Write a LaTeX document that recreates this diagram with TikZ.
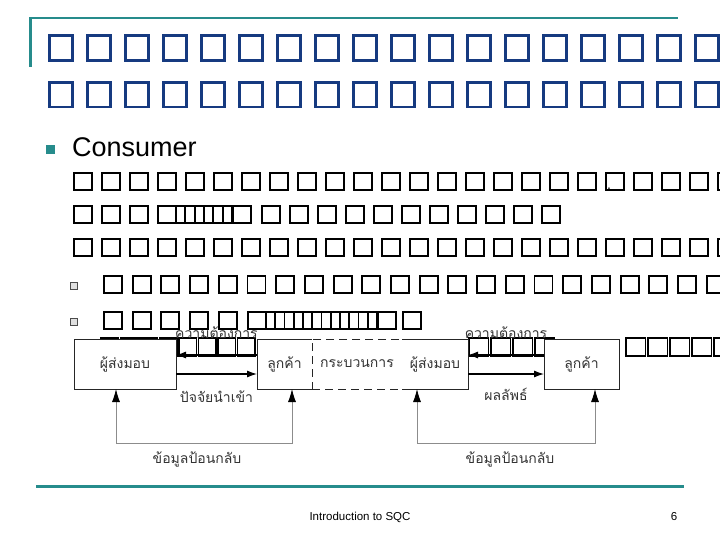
\documentclass[tikz,border=0pt]{standalone}
\usepackage{fontspec}
\setmainfont{Liberation Sans}
\newfontfamily\thaifont[Script=Thai]{Loma}
\usetikzlibrary{arrows.meta,positioning,calc}

\definecolor{slideteal}{RGB}{38,140,140}
\definecolor{titlenavy}{RGB}{22,58,128}

\begin{document}
\begin{tikzpicture}[
    x=1pt, y=-1pt,
    titletofu/.style={draw=titlenavy, line width=2.7pt},
    tofu/.style={draw=black, line width=1.9pt},
    bodytext/.style={
        font=\fontsize{27}{32}\selectfont,
        anchor=base west,
        inner sep=0pt
    },
    block/.style={
        rectangle,
        draw=black!85,
        line width=0.9pt,
        fill=white,
        outer sep=0pt,
        minimum height=50pt,
        font=\thaifont\fontsize{14}{16}\selectfont,
        text=black!80
    },
    lbl/.style={
        font=\thaifont\fontsize{14}{16}\selectfont,
        text=black!80,
        inner sep=0pt
    },
    arrow/.style={-{Latex[length=10pt,width=7pt]}, line width=1.1pt},
    feedback/.style={
        {Latex[length=13pt,width=8pt,color=black]}-{Latex[length=13pt,width=8pt,color=black]},
        draw=black!45,
        line width=0.8pt
    },
    footer/.style={font=\fontsize{11.5}{13}\selectfont, inner sep=0pt}
]

\path[use as bounding box, clip] (0,0) rectangle (720,540);

% =========================================================
% TITLE
% =========================================================

\draw[slideteal, line width=2.5pt] (30.5,67) -- (30.5,18) -- (678,18);

\foreach \k in {0,...,17} {
    \draw[titletofu] ({49.5+38*\k},35.5) rectangle ++(23,25);
    \draw[titletofu] ({49.5+38*\k},82.5) rectangle ++(23,24.5);
}

% =========================================================
% BODY
% =========================================================

\fill[slideteal] (46,145) rectangle (55,154);
\node[bodytext] (consumer) at (72,157) {Consumer};

% line 2
\foreach \k in {0,...,23}
    \draw[tofu] ({74+28*\k},173) rectangle ++(18,17);
\node[inner sep=0pt, anchor=base west, font=\fontsize{14}{16}\selectfont]
    (comma) at (607,190) {,};

% line 3
\foreach \k in {0,...,2}
    \draw[tofu] ({74+28*\k},206) rectangle ++(18,17);
\draw[tofu] (158,206) rectangle ++(18,17);
\foreach \j in {0,...,5}
    \draw[tofu] ({176+9.33*\j},206) rectangle ++(9.33,17);
\draw[tofu] (233,206) rectangle ++(18,17);
\foreach \k in {0,...,10}
    \draw[tofu] ({262+28*\k},206) rectangle ++(18,17);

% line 4
\foreach \k in {0,...,23}
    \draw[tofu] ({74+28*\k},239) rectangle ++(18,17);

% sub items
\draw[black!70, fill=black!12, line width=1pt] (70,282) rectangle (77,289);
\draw[black!70, fill=black!12, line width=1pt] (70,318) rectangle (77,325);

\foreach \k in {0,...,21}
    \draw[tofu] ({104+28.7*\k},276) rectangle ++(18,17);

\foreach \k in {0,...,4}
    \draw[tofu] ({104+28.7*\k},312) rectangle ++(18,17);
\draw[tofu] (248,312) rectangle ++(18,17);
\foreach \j in {0,...,11}
    \draw[tofu] ({266+9.25*\j},312) rectangle ++(9.25,17);
\draw[tofu] (378,312) rectangle ++(18,17);
\draw[tofu] (403,312) rectangle ++(18,17);

\foreach \k in {0,...,7}
    \draw[tofu] ({101+19.5*\k},338) rectangle ++(17.5,18);
\foreach \x in {468,490,512,534,625,647,669,691,713}
    \draw[tofu] ({\x+1},338) rectangle ++(19.5,18);

% =========================================================
% DIAGRAM
% =========================================================

\node[block, minimum width=102pt] (suppA) at (125,364) {ผู้ส่งมอบ};
\node[block, minimum width=55pt, right=81pt of suppA] (custA) {ลูกค้า};
\node[block, minimum width=90pt, right=0pt of custA, dashed,
      dash pattern=on 8pt off 5pt] (proc) {กระบวนการ};
\node[block, draw=none, minimum width=66pt, right=0pt of proc] (suppB) {ผู้ส่งมอบ};
\draw[black!85, line width=0.9pt]
    (suppB.north west) -- (suppB.north east) -- (suppB.south east) -- (suppB.south west);
\node[block, minimum width=75pt, right=76pt of suppB] (custB) {ลูกค้า};

% requirement / input arrows
\draw[arrow] ([yshift=9pt]custA.west) -- ([yshift=9pt]suppA.east);
\draw[arrow] ([yshift=-10pt]suppA.east) -- ([yshift=-10pt]custA.west);
\draw[arrow] ([yshift=9pt]custB.west) -- ([yshift=9pt]suppB.east);
\draw[arrow] ([yshift=-10pt]suppB.east) -- ([yshift=-10pt]custB.west);

\node[lbl, yshift=6pt] (needA)
    at ($(suppA.north east)!0.5!(custA.north west)$) {ความต้องการ};
\node[lbl, yshift=-8pt] (input)
    at ($(suppA.south east)!0.5!(custA.south west)$) {ปัจจัยนำเข้า};
\node[lbl, yshift=6pt] (needB)
    at ($(suppB.north east)!0.5!(custB.north west)$) {ความต้องการ};
\node[lbl, yshift=-5pt] (output)
    at ($(suppB.south east)!0.5!(custB.south west)$) {ผลลัพธ์};

% feedback loops
\coordinate (fbAL) at (116,443);
\coordinate (fbAR) at (292,443);
\coordinate (fbBL) at (417,443);
\coordinate (fbBR) at (595,443);

\draw[feedback] (suppA.south -| fbAL) -- (fbAL) -- (fbAR) -- (custA.south -| fbAR);
\draw[feedback] (suppB.south -| fbBL) -- (fbBL) -- (fbBR) -- (custB.south -| fbBR);

\node[lbl] (fbtextA) at (197,459) {ข้อมูลป้อนกลับ};
\node[lbl] (fbtextB) at (510,459) {ข้อมูลป้อนกลับ};

% =========================================================
% FOOTER
% =========================================================

\draw[slideteal, line width=3pt] (36,486.5) -- (684,486.5);

\node[footer] (foottitle) at (360,517) {Introduction to SQC};
\node[footer] (pagenum) at (674,517) {6};

\end{tikzpicture}
\end{document}
